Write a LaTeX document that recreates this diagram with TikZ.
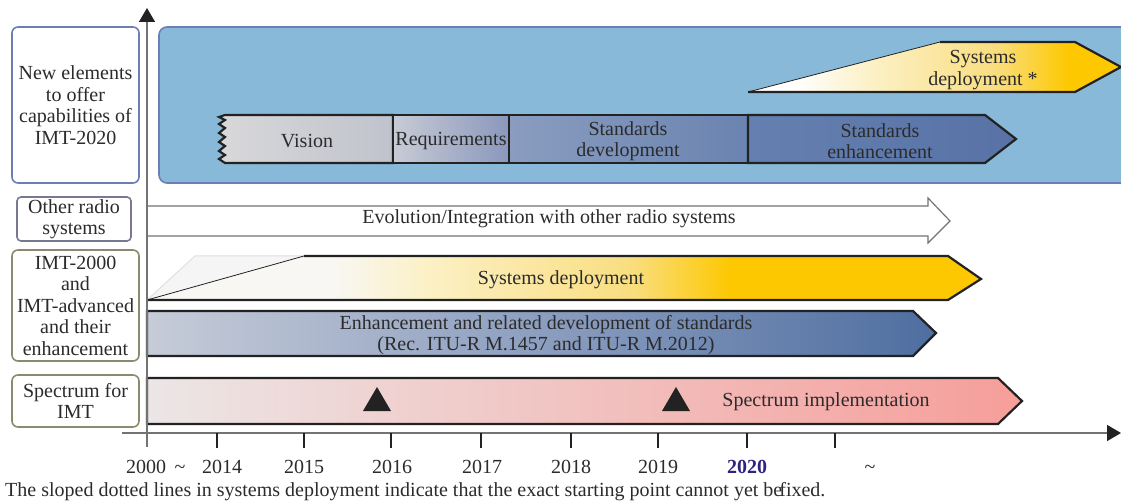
\documentclass[tikz,border=0pt]{standalone}
\usepackage{fontspec}
\setmainfont{Liberation Serif}
\usetikzlibrary{arrows.meta}
\definecolor{txt}{HTML}{2B2B2B}
\definecolor{bgblue}{HTML}{88B9D9}
\definecolor{bgborder}{HTML}{6B7FB5}
\definecolor{olive}{HTML}{8C8A6E}
\definecolor{grayp}{HTML}{77798F}
\definecolor{yA}{HTML}{FCF0C4}
\definecolor{yB}{HTML}{F9DE80}
\definecolor{yC}{HTML}{FDC800}
\definecolor{offw}{HTML}{F8F7F4}
\definecolor{dark}{HTML}{222222}
\definecolor{yr}{HTML}{2E2380}
\pgfdeclarehorizontalshading{yeltop}{100bp}{color(0bp)=(white); color(31bp)=(white); color(42bp)=(yA); color(58bp)=(yB); color(68bp)=(yC); color(100bp)=(yC)}
\pgfdeclarehorizontalshading{yelimt}{100bp}{color(0bp)=(offw); color(36bp)=(offw); color(42bp)=(yA); color(54bp)=(yB); color(60bp)=(yC); color(100bp)=(yC)}
\begin{document}
\begin{tikzpicture}[x=1pt,y=-1pt,
  every node/.style={text=txt,font=\fontsize{20}{21.5}\selectfont,align=center,inner sep=0pt},
  lab/.style={draw,fill=white,rounded corners=6,line width=1.6pt},
  bar/.style={draw=dark,line width=2.2pt,line join=miter},
  bt/.style={yshift=-2pt},
  tick/.style={draw=dark,line width=2pt},
  yrlab/.style={anchor=base},
]
\useasboundingbox (0,0) rectangle (1121,502);
\clip (0,0) rectangle (1121,502);

% big blue background
\draw[fill=bgblue,draw=bgborder,line width=1.6pt,rounded corners=8] (159,27) rectangle (1160,183);

% left labels
\node[lab,draw=bgborder,minimum width=127,minimum height=156] (l1) at (75.5,105) {New elements\\to offer\\capabilities of\\IMT-2020};
\node[lab,draw=grayp,minimum width=114,minimum height=44,rounded corners=4] (l2) at (74,219) {Other radio\\systems};
\node[lab,draw=olive,minimum width=127,minimum height=111] (l3) at (75.5,305.5) {IMT-2000\\and\\IMT-advanced\\and their\\enhancement};
\node[lab,draw=olive,minimum width=127,minimum height=52] (l4) at (75.5,401) {Spectrum for\\IMT};

% Systems deployment * (top)
\path[shading=yeltop] (748,92) -- (940,42) -- (1075,42) -- (1121,67) -- (1075,92) -- cycle;
\draw[dark,line width=0.8pt] (748,92) -- (940,42);
\draw[bar] (940,42) -- (1075,42) -- (1121,67) -- (1075,92) -- (748,92);
\node[bt] (sd1) at (983,68) {Systems\\deployment *};

% standards row
\draw[bar,left color={rgb,255:red,216;green,216;blue,218},right color={rgb,255:red,192;green,195;blue,204}]
  (225,115) -- (393,115) -- (393,163) -- (225,163)
  -- (219,159) -- (225,155) -- (219,151) -- (225,146) -- (219,142) -- (225,137) -- (219,133) -- (225,128) -- (219,124) -- (225,120) -- (219,117) -- cycle;
\draw[bar,left color={rgb,255:red,200;green,203;blue,214},right color={rgb,255:red,138;green,152;blue,188}] (393,115) rectangle (509,163);
\draw[bar,left color={rgb,255:red,138;green,157;blue,192},right color={rgb,255:red,106;green,131;blue,176}] (509,115) rectangle (748,163);
\draw[bar,left color={rgb,255:red,100;green,128;blue,176},right color={rgb,255:red,88;green,114;blue,166}] (748,115) -- (985,115) -- (1016,139) -- (985,163) -- (748,163) -- cycle;
\node[bt] (vis) at (307,139) {Vision};
\node[bt] (req) at (451,139) {Requirements};
\node[bt] (sdev) at (628,139) {Standards\\development};
\node[bt] (senh) at (880,139) {Standards\\enhancement};

% Evolution arrow
\draw[draw=black!55,fill=white,line width=1.2pt] (147,206) -- (928,206) -- (928,198) -- (950,221) -- (928,243) -- (928,236) -- (147,236);
\node[bt] (evo) at (549,217) {Evolution/Integration with other radio systems};

% IMT systems deployment
\draw[draw=black!12,fill=black!4,line width=1pt] (147,300) -- (195,256) -- (304,256);
\path[shading=yelimt] (147,300) -- (304,256) -- (948,256) -- (981,279) -- (948,300) -- cycle;
\draw[dark,line width=0.8pt] (147,300) -- (304,256);
\draw[bar] (304,256) -- (948,256) -- (981,279) -- (948,300) -- (147,300);
\node[bt] (sd2) at (561,278) {Systems deployment};

% Enhancement bar
\draw[bar,left color={rgb,255:red,198;green,204;blue,216},right color={rgb,255:red,78;green,110;blue,160},middle color={rgb,255:red,140;green,158;blue,192}] (147,311) -- (913,311) -- (936,333) -- (913,356) -- (147,356) -- cycle;
\node[bt] (enh) at (546,333) {Enhancement and related development of standards\\(Rec. ITU-R M.1457 and ITU-R M.2012)};

% Spectrum bar
\draw[bar,left color={rgb,255:red,236;green,230;blue,230},right color={rgb,255:red,246;green,158;blue,154}] (147,378) -- (998,378) -- (1022,401) -- (998,424) -- (147,424) -- cycle;
\fill[dark] (377,387) -- (391,411) -- (363,411) -- cycle;
\fill[dark] (676,387) -- (690,411) -- (662,411) -- cycle;
\node[bt] (spi) at (826,400) {Spectrum implementation};

% axes
\coordinate (vb) at (147,447);
\coordinate (vt) at (147,8);
\coordinate (hl) at (122,433);
\coordinate (hr) at (1121,433);
\draw[black!55,line width=1.5pt,-{Triangle[width=16pt,length=14pt,fill=dark,color=dark]}] (vb) -- (vt);
\draw[black!55,line width=1.5pt,-{Triangle[width=16pt,length=14pt,fill=dark,color=dark]}] (hl) -- (hr);
\foreach \x in {217,304,391,481,571,658,747,835} \draw[tick] (\x,433) -- (\x,448);

\node[yrlab] (y0) at (146,473) {2000};
\node[yrlab] (t0) at (180,473) {\textasciitilde};
\node[yrlab] (y14) at (222,473) {2014};
\node[yrlab] (y15) at (304,473) {2015};
\node[yrlab] (y16) at (392,473) {2016};
\node[yrlab] (y17) at (482,473) {2017};
\node[yrlab] (y18) at (571,473) {2018};
\node[yrlab] (y19) at (658,473) {2019};
\node[yrlab,text=yr,font=\fontsize{20}{21.5}\selectfont\bfseries] (y20) at (747,473) {2020};
\node[yrlab] (t1) at (870,473) {\textasciitilde};

\node[anchor=base west] (fn) at (5,496) {The sloped dotted lines in systems deployment indicate that the exact starting point cannot yet be\hspace{-3pt}fixed.};
\end{tikzpicture}
\end{document}
